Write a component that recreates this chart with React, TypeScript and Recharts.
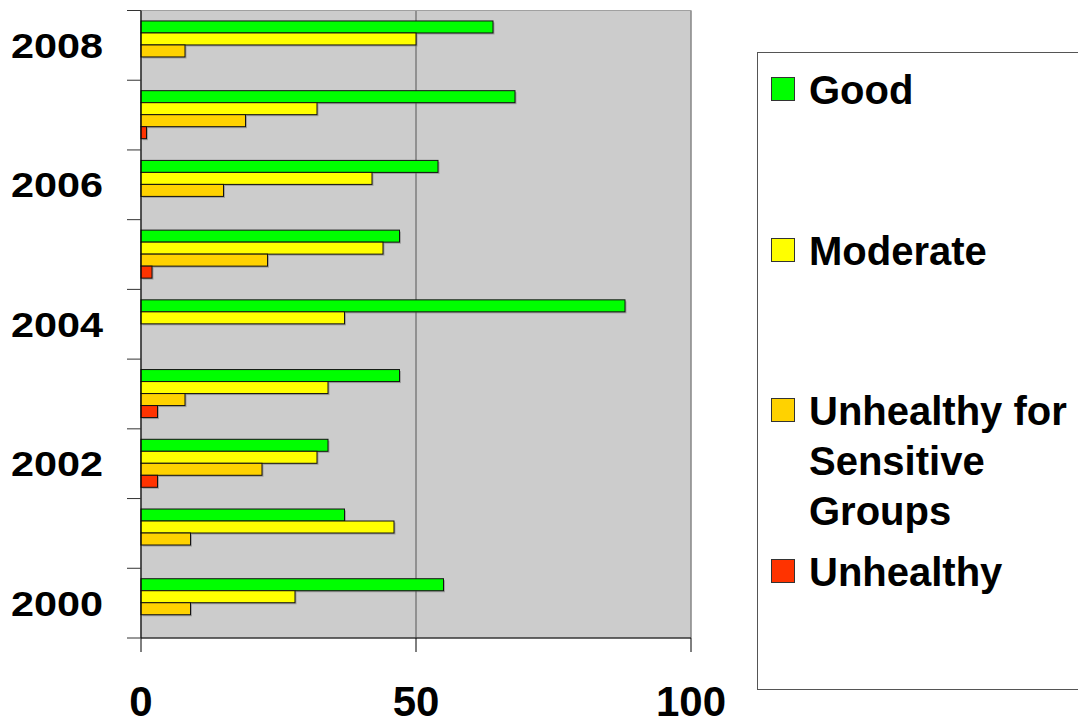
import React from 'react';
import {
  BarChart, Bar, XAxis, YAxis, CartesianGrid, Legend, ReferenceArea
} from 'recharts';

// days per category
const years = [2000, 2001, 2002, 2003, 2004, 2005, 2006, 2007, 2008];
const good = [55, 37, 34, 47, 88, 47, 54, 68, 64];
const moderate = [28, 46, 32, 34, 37, 44, 42, 32, 50];
const sensitive = [9, 9, 22, 8, 0, 23, 15, 19, 8];
const unhealthy = [0, 0, 3, 3, 0, 2, 0, 1, 0];
const xTicks = [0, 50, 100];

const series = [
  { key: 'good', name: 'Good', color: '#00FF00' },
  { key: 'moderate', name: 'Moderate', color: '#FFFF00' },
  { key: 'sensitive', name: 'Unhealthy for Sensitive Groups', color: '#FFD200' },
  { key: 'unhealthy', name: 'Unhealthy', color: '#FF3300' },
];

const data = years.map((year, i) => ({
  year,
  good: good[i],
  moderate: moderate[i],
  sensitive: sensitive[i],
  unhealthy: unhealthy[i],
}));

const W = 1078;
const H = 724;
const TOP = 10.5;
const BOTTOM = 638;
const BAND = (BOTTOM - TOP) / years.length;
const FONT = '"Liberation Sans", Arial, sans-serif';

const BarShape = (props: any) => {
  const { x, y, width, height, fill } = props;
  if (!width || width <= 0) return null;
  return (
    <g>
      <rect x={x + 1.5} y={y + 1.5} width={width} height={height} fill="#666" opacity={0.45} />
      <rect x={x} y={y} width={width} height={height} fill={fill} stroke="#111" strokeWidth={1} />
    </g>
  );
};

const YearTick = (props: any) => {
  const { x, y, payload } = props;
  const year = payload.value;
  const half = BAND / 2;
  return (
    <g>
      <line x1={x - 14} x2={x} y1={y - half} y2={y - half} stroke="#333" />
      {year === years[0] && <line x1={x - 14} x2={x} y1={y + half} y2={y + half} stroke="#333" />}
      {year % 2 === 0 && (
        <text
          x={x - 38}
          y={y}
          dy={12.5}
          textAnchor="end"
          fontFamily={FONT}
          fontWeight="bold"
          fontSize={35}
          textLength={92}
          lengthAdjust="spacingAndGlyphs"
          fill="#000"
        >
          {year}
        </text>
      )}
    </g>
  );
};

const ValueTick = (props: any) => {
  const { x, y, payload } = props;
  return (
    <text x={x} y={y} dy={62} textAnchor="middle" fontFamily={FONT} fontWeight="bold" fontSize={42} fill="#000">
      {payload.value}
    </text>
  );
};

const LegendBox = () => (
  <div
    style={{
      position: 'relative',
      width: 340,
      height: 638,
      border: '1px solid #555',
      boxSizing: 'border-box',
      background: '#fff',
      fontFamily: FONT,
      fontWeight: 'bold',
      fontSize: 40,
      color: '#000',
    }}
  >
    {series.map((s, i) => (
      <div key={s.key} style={{ position: 'absolute', left: 13, top: 12 + i * 160.5, display: 'flex', alignItems: 'flex-start' }}>
        <div style={{ width: 22, height: 22, marginTop: 12, background: s.color, border: '1px solid #333', flex: 'none' }} />
        <div style={{ marginLeft: 14, lineHeight: '50px', width: 268 }}>{s.name}</div>
      </div>
    ))}
  </div>
);

export default function App() {
  return (
    <div style={{ position: 'absolute', left: 0, top: 0, width: W, height: H, overflow: 'hidden', background: '#fff' }}>
      <BarChart
        width={W}
        height={H}
        data={data}
        layout="vertical"
        margin={{ top: TOP, right: W - 691, bottom: 0, left: 0 }}
        barCategoryGap="15%"
        barGap={0}
      >
        <CartesianGrid horizontal={false} fill="#CCCCCC" fillOpacity={1} stroke="#555" />
        <ReferenceArea x1={0} x2={100} fill="none" stroke="#A0A0A0" />
        <XAxis
          type="number"
          domain={[0, 100]}
          ticks={xTicks}
          height={H - BOTTOM}
          axisLine={{ stroke: '#000' }}
          tickLine={{ stroke: '#000' }}
          tickSize={14}
          tick={<ValueTick />}
        />
        <YAxis
          type="category"
          dataKey="year"
          reversed
          width={141}
          axisLine={{ stroke: '#000' }}
          tickLine={false}
          tickSize={0}
          tickMargin={0}
          interval={0}
          tick={<YearTick />}
        />
        <Legend
          layout="vertical"
          align="center"
          verticalAlign="middle"
          wrapperStyle={{ left: 757, top: 52, width: 340, height: 638 }}
          content={() => <LegendBox />}
        />
        {series.map((s) => (
          <Bar
            key={s.key}
            dataKey={s.key}
            name={s.name}
            fill={s.color}
            shape={<BarShape />}
            isAnimationActive={false}
          />
        ))}
      </BarChart>
    </div>
  );
}
